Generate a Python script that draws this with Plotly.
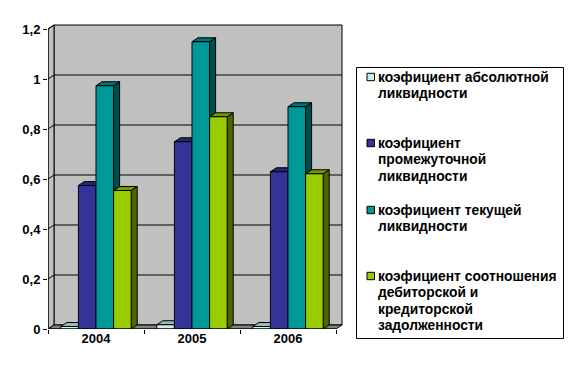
import plotly.graph_objects as go

# data
years = ["2004", "2005", "2006"]
series_names = [
    "коэфициент абсолютной<br>ликвидности",
    "коэфициент<br>промежуточной<br>ликвидности",
    "коэфициент текущей<br>ликвидности",
    "коэфициент соотношения<br>дебиторской и<br>кредиторской<br>задолженности",
]
absolute = [0.01, 0.017, 0.01]
intermediate = [0.574, 0.749, 0.629]
current = [0.973, 1.149, 0.889]
ratio = [0.554, 0.849, 0.621]
y_ticks = [0, 0.2, 0.4, 0.6, 0.8, 1, 1.2]
y_labels = ["0", "0,2", "0,4", "0,6", "0,8", "1", "1,2"]

# styles: front, top, side
front = ["#CCECEC", "#333399", "#009999", "#99CC00"]
top = ["#99B8B8", "#262673", "#007373", "#739900"]
side = ["#668080", "#1A1A4D", "#004D4D", "#4D6600"]

W, H = 575, 375
L, R, T, B = 48, 346, 20, 329
X_RANGE = [-0.5, 2.6042]
Y_RANGE = [0, 1.236]
DX, DY = 6 / 96, 4 / 250
BAR_W = 17.6 / 96
FONT = "Liberation Sans, Arial, sans-serif"
LINE_STEP = 16.6

all_series = [absolute, intermediate, current, ratio]
xs = list(range(len(years)))


def px(x):
    return (x - L) / (R - L)


def py(y):
    return (B - y) / (B - T)


def poly(points, fill, width=1):
    path = "M " + " L ".join(f"{x},{y}" for x, y in points) + " Z"
    return dict(type="path", path=path, xref="x", yref="y", layer="below",
                fillcolor=fill, line=dict(color="black", width=width))


shapes = []
x_end = 2.5
top_y = 1.2
# back wall
shapes.append(poly([(-0.5 + DX, DY), (-0.5 + DX, top_y + DY),
                    (x_end + DX, top_y + DY), (x_end + DX, DY)], "#C0C0C0"))
# side wall
shapes.append(poly([(-0.5, 0), (-0.5, top_y), (-0.5 + DX, top_y + DY),
                    (-0.5 + DX, DY)], "#C0C0C0"))
# floor
shapes.append(poly([(-0.5, 0), (-0.5 + DX, DY), (x_end + DX, DY), (x_end, 0)], "#808080"))
# grid on the back wall and side wall
for v in y_ticks[1:-1]:
    shapes.append(dict(type="line", xref="x", yref="y", layer="below",
                       x0=-0.5 + DX, x1=x_end + DX, y0=v + DY, y1=v + DY,
                       line=dict(color="black", width=1)))
for v in y_ticks[1:]:
    shapes.append(dict(type="line", xref="x", yref="y", layer="below",
                       x0=-0.5, x1=-0.5 + DX, y0=v, y1=v + DY,
                       line=dict(color="black", width=1)))

# top and side faces for each bar
n = len(all_series)
for c in xs:
    for i, vals in enumerate(all_series):
        v = vals[c]
        l = c - n * BAR_W / 2 + i * BAR_W
        r = l + BAR_W
        shapes.append(poly([(r, 0), (r, v), (r + DX, v + DY), (r + DX, DY)], side[i]))
        shapes.append(poly([(l, v), (l + DX, v + DY), (r + DX, v + DY), (r, v)], top[i]))

fig = go.Figure()
for i, vals in enumerate(all_series):
    fig.add_trace(go.Bar(x=xs, y=vals, name=series_names[i].replace("<br>", " "),
                         marker=dict(color=front[i], line=dict(color="black", width=1)),
                         showlegend=False))

# front edges of the axes
fig.add_trace(go.Scatter(x=[-0.5, -0.5, x_end], y=[top_y, 0, 0], mode="lines",
                         line=dict(color="black", width=1), cliponaxis=False,
                         showlegend=False, hoverinfo="skip"))

# legend box, swatches and text
LEG_X0, LEG_X1, LEG_Y0, LEG_Y1 = 356.5, 563.5, 67.5, 338.5
shapes.append(dict(type="rect", xref="paper", yref="paper", layer="below",
                   x0=px(LEG_X0), x1=px(LEG_X1), y0=py(LEG_Y1), y1=py(LEG_Y0),
                   fillcolor="white", line=dict(color="black", width=1)))
leg_y = [77, 143, 210, 276]
annotations = []
for i, name in enumerate(series_names):
    shapes.append(dict(type="rect", xref="paper", yref="paper", layer="above",
                       x0=px(367), x1=px(374.5), y0=py(leg_y[i] + 3.7), y1=py(leg_y[i] - 3.7),
                       fillcolor=front[i], line=dict(color="black", width=1)))
    for k, line_text in enumerate(name.split("<br>")):
        annotations.append(dict(text=line_text, xref="paper", yref="paper", showarrow=False,
                                x=px(376.5), y=py(leg_y[i] + k * LINE_STEP),
                                xanchor="left", yanchor="middle",
                                align="left", borderpad=0,
                                font=dict(family=FONT, size=13.8, color="black",
                                          weight="bold")))

fig.update_layout(
    width=W, height=H, autosize=False,
    margin=dict(l=L, r=W - R, t=T, b=H - B, pad=0),
    paper_bgcolor="white", plot_bgcolor="white",
    barmode="group", bargap=1 - n * BAR_W, bargroupgap=0,
    shapes=shapes, annotations=annotations,
    xaxis=dict(range=X_RANGE, tickmode="array", tickvals=xs, ticktext=years,
               ticks="", showgrid=False, zeroline=False, showline=False,
               tickfont=dict(family=FONT, size=13, color="black", weight="bold"),
               minor=dict(tickmode="array", tickvals=[-0.5, 0.5, 1.5, 2.5], ticks="outside",
                          ticklen=4, tickcolor="black", tickwidth=1, showgrid=False)),
    yaxis=dict(range=Y_RANGE, tickmode="array", tickvals=y_ticks, ticktext=y_labels,
               ticks="outside", ticklen=4, tickcolor="black", tickwidth=1,
               showgrid=False, zeroline=False, showline=False,
               tickfont=dict(family=FONT, size=13, color="black", weight="bold")),
)

fig.write_html("out.html", config=dict(displayModeBar=False),
               post_script="document.body.style.margin='0';window.dispatchEvent(new Event('resize'));")
